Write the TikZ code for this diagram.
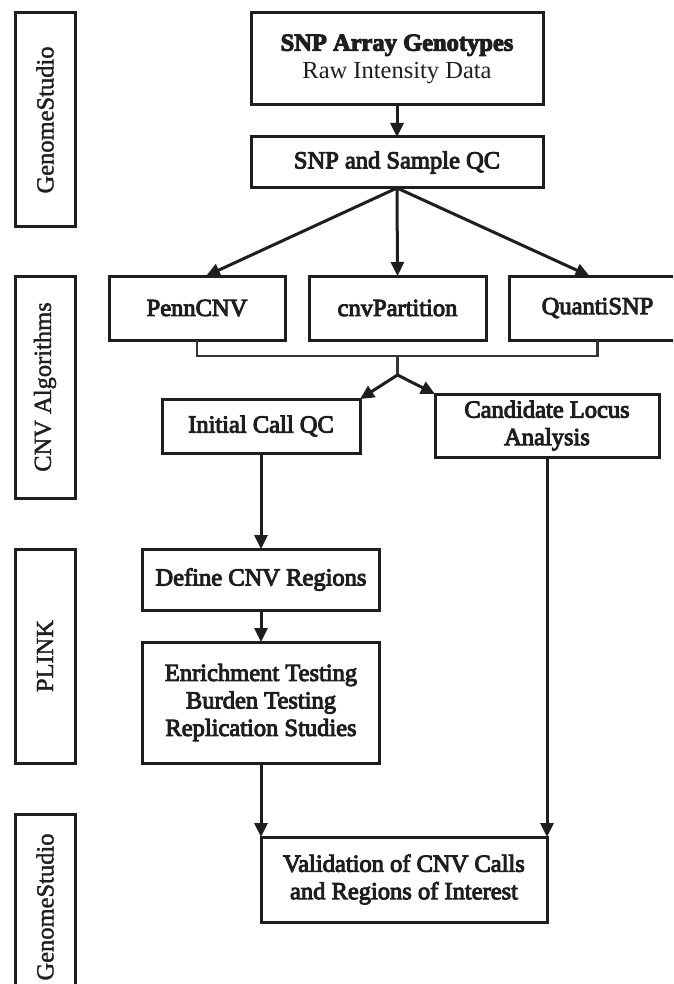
\documentclass[tikz,border=0pt]{standalone}
\usepackage{fontspec}
\setmainfont{Liberation Serif}
\newfontfamily\medfont[FakeBold=4]{Liberation Serif}
\newfontfamily\sidefont[FakeBold=1.5]{Liberation Serif}
\usetikzlibrary{arrows.meta}
\definecolor{ink}{HTML}{1E1E1E}
\begin{document}
\begin{tikzpicture}[x=1pt,y=-1pt,
  box/.style={draw=ink, line width=3pt, inner sep=0pt, outer sep=0pt, align=center, text=ink,
    font=\medfont\fontsize{24.5}{27.5}\selectfont},
  side/.style={draw=ink, line width=3pt, inner sep=0pt, outer sep=0pt, rotate=90,
    minimum height=60pt, text=ink, font=\sidefont\fontsize{24.5}{28}\selectfont},
  arr/.style={draw=ink, line width=3pt, -{Triangle[length=14pt,width=13pt]}},
  brk/.style={draw=ink!90, line width=2.4pt}]
\useasboundingbox (0,0) rectangle (673,984);
\clip (0,0) rectangle (673,984);
\fill[white] (0,0) rectangle (673,984);

% side labels
\node[side, minimum width=214pt] (s1) at (45,120) {GenomeStudio};
\node[side, minimum width=222pt] (s2) at (45,387) {CNV Algorithms};
\node[side, minimum width=214pt] (s3) at (45,656) {PLINK};
\node[side, minimum width=186pt] (s4) at (45,907) {GenomeStudio};

% main boxes
\node[box, minimum width=292pt, minimum height=92pt] (snp) at (397,59)
  {{\bfseries SNP Array Genotypes}\\{\normalfont\fontsize{24.5}{27.5}\selectfont Raw Intensity Data}};
\node[box, minimum width=292pt, minimum height=51pt] (qc) at (397,162.5) {SNP and Sample QC};
\node[box, minimum width=176pt, minimum height=64pt] (penn) at (197,308) {PennCNV};
\node[box, minimum width=177pt, minimum height=64pt] (cnvp) at (397.5,308) {cnvPartition};
\node[box, minimum width=177pt, minimum height=64pt] (quanti) at (597.5,308) {QuantiSNP};
\node[box, minimum width=198pt, minimum height=54pt] (init) at (261,426) {Initial Call QC};
\node[box, minimum width=224pt, minimum height=63pt] (cand) at (547,425.5) {Candidate Locus\\Analysis};
\node[box, minimum width=237pt, minimum height=61pt] (define) at (261,579.5) {Define CNV Regions};
\node[box, minimum width=237pt, minimum height=121pt] (enrich) at (261,702.5)
  {Enrichment Testing\\Burden Testing\\Replication Studies};
\node[box, minimum width=286pt, minimum height=85pt] (valid) at (404,879.5)
  {Validation of CNV Calls\\and Regions of Interest};

% connectors
\draw[arr] (snp.south) -- (qc.north);
\draw[arr] (qc.south) -- ([xshift=9pt]penn.north);
\draw[arr] (qc.south) -- (cnvp.north);
\draw[arr] (qc.south) -- ([xshift=-8pt]quanti.north);

\coordinate (j1) at (397.5,356);
\coordinate (j2) at (397.5,375);
\draw[brk] (penn.south) -- (penn.south |- j1) -- (quanti.south |- j1) -- (quanti.south);
\draw[brk] (j1) -- (j2);
\draw[arr] (j2) -- (init.north east);
\draw[arr] (j2) -- (cand.north west);

\draw[arr] (init.south) -- (define.north);
\draw[arr] (define.south) -- (enrich.north);
\draw[arr] (enrich.south) -- (valid.north west);
\draw[arr] (cand.south) -- (valid.north east);
\end{tikzpicture}
\end{document}
